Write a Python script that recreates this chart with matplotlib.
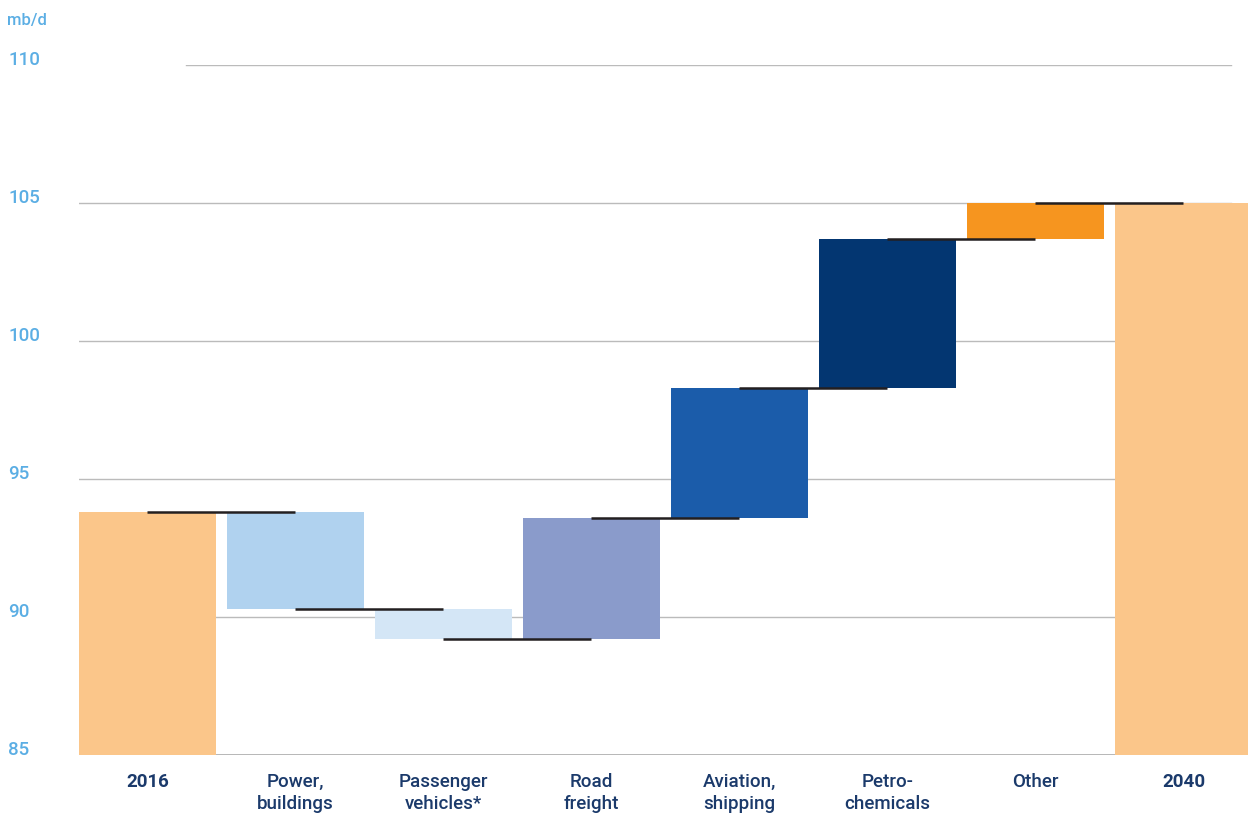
import numpy as np
import matplotlib.pyplot as plt

# waterfall data, mb/d
categories = ['2016', 'Power,\nbuildings', 'Passenger\nvehicles*', 'Road\nfreight',
              'Aviation,\nshipping', 'Petro-\nchemicals', 'Other', '2040']
start_value = 93.8
changes = [-3.5, -1.1, 4.4, 4.7, 5.4, 1.3]
bar_colors = ['#FBC68A', '#B0D2EF', '#D4E6F6', '#8A9BCB',
              '#1B5CAA', '#033671', '#F6951F', '#FBC68A']
y_ticks = [85, 90, 95, 100, 105, 110]

tick_blue = '#5BAEE4'
navy = '#1B3A6B'

plt.rcParams['font.family'] = ['Roboto', 'DejaVu Sans']

# running totals -> bottoms / heights
levels = np.concatenate([[start_value], start_value + np.cumsum(changes)])
end_value = levels[-1]
bottoms, heights = [85], [start_value - 85]
for i, d in enumerate(changes):
    lo = min(levels[i], levels[i + 1])
    bottoms.append(lo)
    heights.append(abs(d))
bottoms.append(85)
heights.append(end_value - 85)

x = np.arange(len(categories))

fig = plt.figure(figsize=(12.48, 8.18), dpi=100)
ax = fig.add_axes([79 / 1248, 63 / 818, 1169 / 1248, 690 / 818])

ax.bar(x, heights, bottom=bottoms, width=0.925, color=bar_colors, zorder=2)

# connector lines between consecutive bars
for i in range(len(levels)):
    ax.plot([x[i], x[i + 1]], [levels[i], levels[i]], color='#231F20',
            linewidth=1.8, zorder=3, solid_capstyle='butt')

# gridlines
for yv in y_ticks:
    if yv == 85:
        ax.axhline(yv, xmin=0, xmax=1, color='#AAAAAA', linewidth=1.2, zorder=1)
    elif yv == 110:
        ax.axhline(yv, xmin=0.0915, xmax=0.9855, color='#BBBBBB', linewidth=1.0, zorder=1)
    else:
        ax.axhline(yv, xmin=0, xmax=0.9855, color='#BBBBBB', linewidth=1.0, zorder=1)

ax.set_xlim(-0.4625, 7.436)
ax.set_ylim(85, 110)

for s in ax.spines.values():
    s.set_visible(False)

ax.set_yticks(y_ticks)
ax.set_yticklabels([str(v) for v in y_ticks], ha='left', va='baseline',
                   color=tick_blue, fontsize=13.5, fontweight='medium')
ax.tick_params(axis='y', length=0, pad=51)

ax.set_xticks(x)
ax.set_xticklabels(categories, color=navy, fontsize=13.5, linespacing=1.25)
for i, lab in enumerate(ax.get_xticklabels()):
    lab.set_fontweight('bold' if i in (0, len(categories) - 1) else 'medium')
ax.tick_params(axis='x', length=0, pad=13)

fig.text(7 / 1248, 1 - 20 / 818, 'mb/d', color=tick_blue, fontsize=12,
         fontweight='medium', ha='left', va='center')

fig.savefig('out.png', dpi=100)
